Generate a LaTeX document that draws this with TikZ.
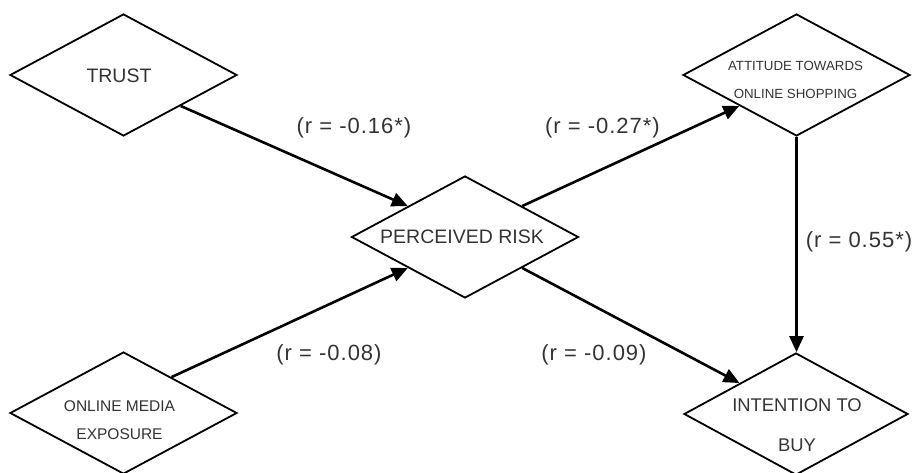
\documentclass[tikz,border=0pt]{standalone}
\usepackage{fontspec}
\setmainfont{Liberation Sans}
\newfontfamily\labelfont[LetterSpace=4.5]{Liberation Sans}
\usetikzlibrary{shapes.geometric,arrows.meta,calc}
\definecolor{txt}{HTML}{333333}
\tikzset{
  dbox/.style={draw=black, line width=1.8pt, diamond, inner sep=0pt, minimum width=227pt, minimum height=122pt},
  ntext/.style={text=txt, inner sep=0pt, align=center},
  rlabel/.style={text=txt, inner sep=0pt, font=\labelfont\fontsize{22}{24}\selectfont},
  link/.style={line width=2.6pt, -{Triangle[length=16pt,width=14pt]}}
}
\begin{document}
\begin{tikzpicture}[x=1pt,y=-1pt]
\useasboundingbox (0,0) rectangle (918,473);
% diamonds
\node[dbox] (trust) at (123.5,75) {};
\node[dbox] (pr) at (465,237) {};
\node[dbox] (att) at (796.5,75) {};
\node[dbox] (ome) at (123.5,413) {};
\node[dbox, minimum width=224pt] (int) at (796,414) {};
% texts
\node[ntext, font=\fontsize{19.5}{22}\selectfont] (trustT) at (119,75.5) {TRUST};
\node[ntext, font=\fontsize{19.5}{22}\selectfont] (prT) at (462,237) {PERCEIVED RISK};
\node[ntext, font=\fontsize{13.3}{28}\selectfont] (attT) at (795.5,80) {ATTITUDE TOWARDS\\ONLINE SHOPPING};
\node[ntext, font=\fontsize{15.5}{28}\selectfont] (omeT) at (119.5,420) {ONLINE MEDIA\\EXPOSURE};
\node[ntext, font=\fontsize{18.4}{40}\selectfont] (intT) at (797,425) {INTENTION TO\\BUY};
% connectors
\draw[link] (trust.south east) -- (pr.north west);
\draw[link] ($(ome.north)!0.42!(ome.east)$) -- (pr.south west);
\draw[link] (pr.north east) -- (att.south west);
\draw[link] (pr.south east) -- (int.north west);
\draw[link] (att.south) -- (att.south |- int.north);
% labels
\node[rlabel] (l1) at (354,128) {(r = -0.16*)};
\node[rlabel] (l2) at (602.5,128) {(r = -0.27*)};
\node[rlabel] (l3) at (859,242) {(r = 0.55*)};
\node[rlabel] (l4) at (329,355) {(r = -0.08)};
\node[rlabel] (l5) at (594,355) {(r = -0.09)};
\end{tikzpicture}
\end{document}
